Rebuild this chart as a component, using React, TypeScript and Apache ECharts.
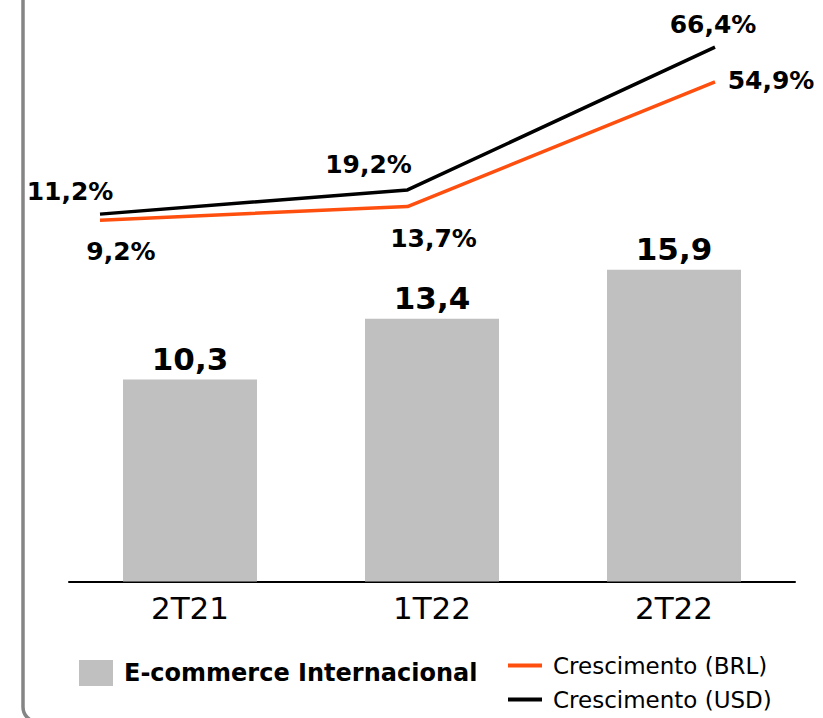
import React, { useEffect, useRef } from "react";
import * as echarts from "echarts";

const categories = ["2T21", "1T22", "2T22"];
const ecommerceValues = [10.3, 13.4, 15.9];
const growthBRL = [9.2, 13.7, 54.9];
const growthUSD = [11.2, 19.2, 66.4];
const brlLabelOffsets = [[21, 31], [26, 32], [56, -1]];
const usdLabelOffsets = [[-30, -23], [-39, -25], [-2, -23]];

const fmt = (v: number) => v.toFixed(1).replace(".", ",");
const FONT = "DejaVu Sans";

export default function App() {
  const ref = useRef<HTMLDivElement>(null);
  useEffect(() => {
    if (!ref.current) return;
    const chart = echarts.init(ref.current, null, { renderer: "svg" });
    const lineLabel = {
      show: true,
      position: "inside",
      fontFamily: FONT,
      fontWeight: "bold",
      fontSize: 25,
      color: "#000",
      formatter: (p: any) => fmt(p.value) + "%",
    };
    const lineLegend = (name: string, top: number) => ({
      data: [{ name, icon: "rect" }],
      left: 508,
      top,
      padding: 0,
      itemWidth: 34,
      itemHeight: 4,
      itemGap: 11,
      textStyle: { fontFamily: FONT, fontSize: 23, color: "#000", padding: [0, 0, 0, 6] },
    });
    chart.setOption({
      animation: false,
      backgroundColor: "#fff",
      graphic: [
        {
          type: "rect",
          shape: { x: 23, y: -60, width: 900, height: 782, r: 15 },
          style: { fill: "none", stroke: "#858585", lineWidth: 3.5 },
          z: 0,
        },
      ],
      legend: [
        {
          data: [{ name: "E-commerce Internacional", icon: "rect" }],
          left: 79,
          top: 660,
          padding: 0,
          itemWidth: 34,
          itemHeight: 26,
          itemGap: 10,
          textStyle: {
            fontFamily: FONT,
            fontWeight: "bold",
            fontSize: 24,
            color: "#000",
            padding: [2, 0, 0, 6],
          },
        },
        lineLegend("Crescimento (BRL)", 654),
        lineLegend("Crescimento (USD)", 688),
      ],
      grid: [
        { left: 69, right: 28, top: 189.4, bottom: 136.5 },
        { left: 100, right: 108, top: 36.25, bottom: 470 },
      ],
      xAxis: [
        {
          type: "category",
          gridIndex: 0,
          data: categories,
          axisLine: { lineStyle: { color: "#000", width: 2 } },
          axisTick: { show: false },
          axisLabel: { fontFamily: FONT, fontSize: 31, color: "#000", margin: 11 },
        },
        {
          type: "category",
          gridIndex: 1,
          data: categories,
          boundaryGap: false,
          show: false,
        },
      ],
      yAxis: [
        { type: "value", gridIndex: 0, min: 0, max: 20, show: false },
        { type: "value", gridIndex: 1, min: 0, max: 70, show: false },
      ],
      series: [
        {
          name: "E-commerce Internacional",
          type: "bar",
          xAxisIndex: 0,
          yAxisIndex: 0,
          data: ecommerceValues,
          barWidth: 134,
          itemStyle: { color: "#c0c0c0" },
          label: {
            show: true,
            position: "top",
            distance: 5,
            fontFamily: FONT,
            fontWeight: "bold",
            fontSize: 31,
            color: "#000",
            formatter: (p: any) => fmt(p.value),
          },
        },
        {
          name: "Crescimento (BRL)",
          type: "line",
          xAxisIndex: 1,
          yAxisIndex: 1,
          data: growthBRL.map((v, i) => ({
            value: v,
            label: { offset: brlLabelOffsets[i] },
          })),
          symbol: "circle",
          symbolSize: 0,
          itemStyle: { color: "#ff4f0f" },
          lineStyle: { color: "#ff4f0f", width: 3.5 },
          label: lineLabel,
          z: 3,
        },
        {
          name: "Crescimento (USD)",
          type: "line",
          xAxisIndex: 1,
          yAxisIndex: 1,
          data: growthUSD.map((v, i) => ({
            value: v,
            label: { offset: usdLabelOffsets[i] },
          })),
          symbol: "circle",
          symbolSize: 0,
          itemStyle: { color: "#000" },
          lineStyle: { color: "#000", width: 3.5 },
          label: lineLabel,
          z: 4,
        },
      ],
    });
    return () => chart.dispose();
  }, []);
  return (
    <div
      ref={ref}
      style={{ position: "fixed", left: 0, top: 0, width: 823, height: 718 }}
    />
  );
}
